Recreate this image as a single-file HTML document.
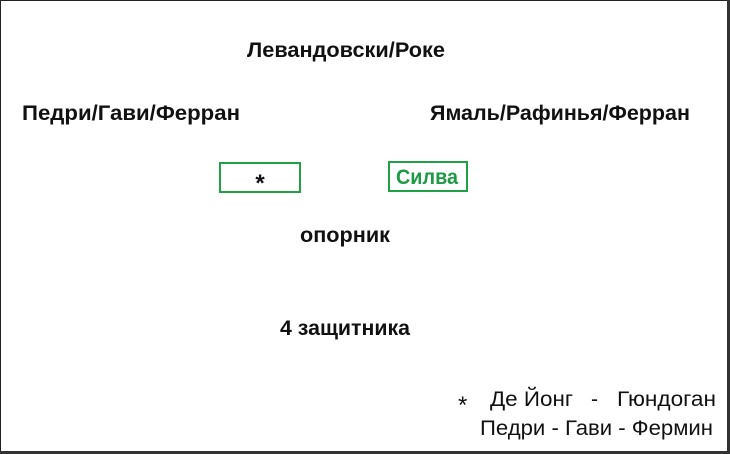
<!DOCTYPE html>
<html><head><meta charset="utf-8"><style>
html,body{margin:0;padding:0;background:#fff}
svg{display:block}
text{font-family:"Liberation Sans",sans-serif}
</style></head><body>
<svg width="730" height="454" viewBox="0 0 730 454" xmlns="http://www.w3.org/2000/svg">
<rect x="0" y="0" width="730" height="454" fill="#fff"/>
<rect x="0.5" y="0.5" width="727" height="451" fill="none" stroke="#222" stroke-width="1"/>
<rect x="727" y="0" width="3" height="454" fill="#333"/>
<rect x="0" y="451" width="730" height="3" fill="#333"/>
<g font-weight="bold" font-size="21" fill="#111">
<text x="247" y="57" textLength="198" lengthAdjust="spacingAndGlyphs">Левандовски/Роке</text>
<text x="22" y="120" textLength="218" lengthAdjust="spacingAndGlyphs">Педри/Гави/Ферран</text>
<text x="430" y="120" textLength="260" lengthAdjust="spacingAndGlyphs">Ямаль/Рафинья/Ферран</text>
<text x="300" y="242" textLength="90" lengthAdjust="spacingAndGlyphs">опорник</text>
<text x="280" y="335" textLength="130" lengthAdjust="spacingAndGlyphs">4 защитника</text>
</g>
<rect x="220" y="163" width="80" height="29" fill="none" stroke="#22a045" stroke-width="2"/>
<text x="260" y="191" font-size="24" font-weight="bold" text-anchor="middle" fill="#111">*</text>
<rect x="389" y="162" width="78" height="29" fill="none" stroke="#22a045" stroke-width="2"/>
<text x="396" y="184" font-size="21" font-weight="bold" fill="#1e9a45" textLength="62" lengthAdjust="spacingAndGlyphs">Силва</text>
<g font-size="21" fill="#111">
<text x="458" y="413" font-size="24">*</text>
<text x="490" y="406" textLength="83" lengthAdjust="spacingAndGlyphs">Де Йонг</text>
<text x="591" y="406">-</text>
<text x="617" y="406" textLength="99" lengthAdjust="spacingAndGlyphs">Гюндоган</text>
<text x="480" y="435" textLength="233" lengthAdjust="spacingAndGlyphs">Педри - Гави - Фермин</text>
</g>
</svg>
</body></html>
